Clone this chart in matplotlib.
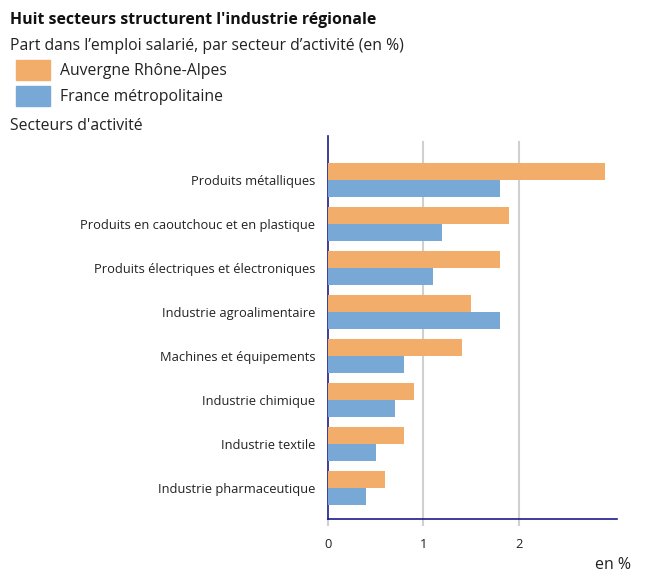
import matplotlib
matplotlib.use("Agg")
import matplotlib.pyplot as plt
from matplotlib.patches import Rectangle
import numpy as np

plt.rcParams['font.family'] = ['Open Sans', 'DejaVu Sans']

secteurs = ["Produits métalliques",
            "Produits en caoutchouc et en plastique",
            "Produits électriques et électroniques",
            "Industrie agroalimentaire",
            "Machines et équipements",
            "Industrie chimique",
            "Industrie textile",
            "Industrie pharmaceutique"]
aura = [2.9, 1.9, 1.8, 1.5, 1.4, 0.9, 0.8, 0.6]
france = [1.8, 1.2, 1.1, 1.8, 0.8, 0.7, 0.5, 0.4]
xticks = [0, 1, 2]

ORANGE = '#f2ad6b'
BLUE = '#78a8d6'
NAVY = '#1c1c8a'

W, H = 649, 585
fig = plt.figure(figsize=(W / 100, H / 100), dpi=100)

def px(x, y):
    return x / W, 1 - y / H

ax = fig.add_axes([328 / W, 1 - 519 / H, (617 - 328) / W, (519 - 136) / H])
y = np.arange(len(secteurs))
h = 0.386
ax.barh(y - h / 2, aura, height=h, color=ORANGE, zorder=3)
ax.barh(y + h / 2, france, height=h, color=BLUE, zorder=3)
ax.set_ylim(7.7, -1.0)
ax.set_xlim(0, 3.03)

for t in xticks[1:]:
    ax.axvline(t, ymin=0, ymax=(519 - 142) / 383, color='#d0d0d0', lw=1.5, zorder=1)
ax.set_xticks(xticks)
ax.set_xticklabels([str(t) for t in xticks], fontsize=9.3, color='#222222')
ax.tick_params(axis='x', length=5, width=1.5, color='#d0d0d0', pad=9)
ax.set_yticks(y)
ax.set_yticklabels(secteurs, fontsize=9.3, color='#222222')
ax.tick_params(axis='y', length=0, pad=9)

for s in ['top', 'right']:
    ax.spines[s].set_visible(False)
for s in ['left', 'bottom']:
    ax.spines[s].set_color(NAVY)
    ax.spines[s].set_linewidth(1.2)

fig.text(*px(10, 20), "Huit secteurs structurent l'industrie régionale",
         fontsize=11.4, fontweight='bold', va='center', color='#111111')
fig.text(*px(10, 46), "Part dans l’emploi salarié, par secteur d’activité (en %)",
         fontsize=11.3, va='center', color='#222222')
for i, (lab, col) in enumerate([("Auvergne Rhône-Alpes", ORANGE), ("France métropolitaine", BLUE)]):
    top = 60 + i * 26
    fig.patches.append(Rectangle(px(16, top + 20), 34 / W, 20 / H,
                                 transform=fig.transFigure, color=col, figure=fig))
    fig.text(*px(60, top + 11), lab, fontsize=11.3, va='center', color='#222222')
fig.text(*px(10, 126), "Secteurs d'activité", fontsize=11.3, va='center', color='#222222')
fig.text(*px(631, 565), "en %", fontsize=11.5, va='center', ha='right', color='#222222')

fig.savefig("out.png", dpi=100)
